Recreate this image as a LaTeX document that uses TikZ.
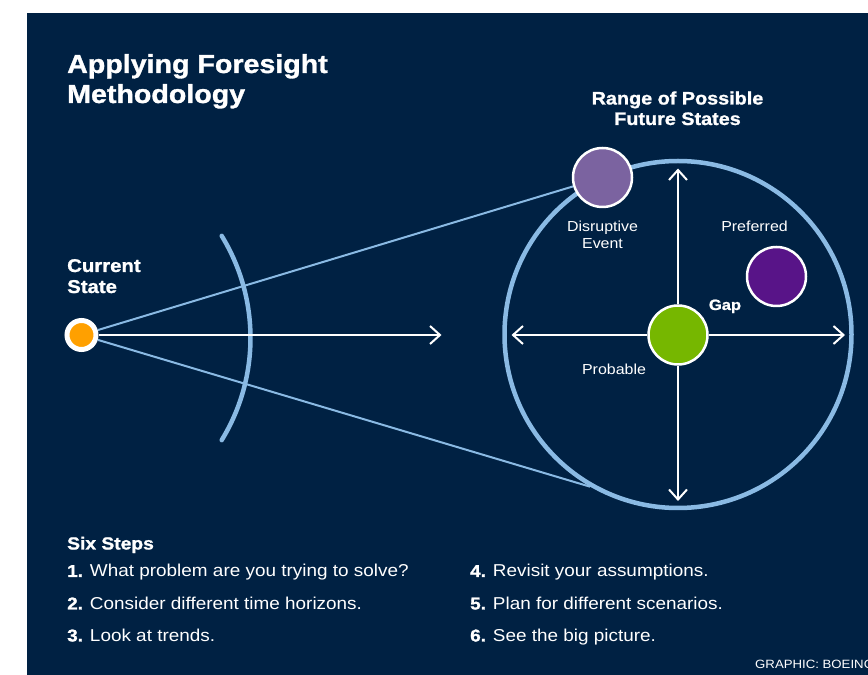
\documentclass[tikz,border=0pt]{standalone}
\usepackage{fontspec}
\setmainfont{Liberation Sans}[FakeStretch=1.1]
\newfontfamily\heavyfont{Liberation Sans Bold}[FakeStretch=1.1,FakeBold=1.2]
\usetikzlibrary{arrows.meta,positioning}

\definecolor{navy}{RGB}{0,33,67}
\definecolor{skyline}{RGB}{138,186,228}
\definecolor{dotorange}{RGB}{255,160,0}
\definecolor{probgreen}{RGB}{118,183,0}
\definecolor{disrpurple}{RGB}{123,99,160}
\definecolor{prefpurple}{RGB}{88,20,136}

\begin{document}
\begin{tikzpicture}[x=1pt,y=1pt,
		blob/.style={circle,draw=white,line width=2.5pt,inner sep=0pt,minimum size=59pt},
		ray/.style={draw=skyline,line width=2pt},
		axis/.style={draw=white,line width=2pt,-{Straight Barb[length=10pt,width=18pt]}},
		tag/.style={text=white,inner sep=0pt,align=center,font=\fontsize{14.5}{17}\selectfont},
		head/.style={text=white,inner sep=0pt,font=\heavyfont\fontsize{18.5}{21}\selectfont},
		steptxt/.style={text=white,inner sep=0pt,anchor=base west,font=\fontsize{17.2}{19}\selectfont}]
	\useasboundingbox (0,0) rectangle (868,675);
	\clip (0,0) rectangle (868,675);
	\fill[white] (0,0) rectangle (868,675);
	\fill[navy] (27,0) rectangle (868,662);
	% headings (base = last line)
	\node[head,align=left,anchor=base west,font=\heavyfont\fontsize{26}{30}\selectfont] (title) at (67,572) {Applying Foresight\\Methodology};
	\node[head,align=center,anchor=base,font=\heavyfont\fontsize{18}{20.5}\selectfont] (rangetitle) at (677.5,550) {Range of Possible\\Future States};
	\node[head,align=left,anchor=base west] (curtitle) at (67,382) {Current\\State};
	% circles
	\node[circle,draw=skyline,line width=4.5pt,inner sep=0pt,minimum size=347pt] (range) at (678,340.5) {};
	\node[circle,draw=white,fill=dotorange,line width=5pt,inner sep=0pt,minimum size=29pt] (cur) at (81.5,340) {};
	\coordinate (lens) at (55,337);
	\coordinate (mid) at (441.5,340);
	\coordinate (up) at (678,506.5);
	\coordinate (down) at (678,174);
	\coordinate (left) at (511.5,340);
	\coordinate (right) at (845,340);
	\draw[ray] (cur) -- (range.240);
	\draw[ray,line width=4.5pt,line cap=round] ([shift={(-31.5:195.5)}]lens) arc[start angle=-31.5,end angle=31.5,radius=195.5];
	\draw[axis] (cur) -- (mid);
	\node[blob,fill=probgreen] (prob) at (678,340) {};
	\node[blob,fill=disrpurple] (disr) at (602.5,497.5) {};
	\node[blob,fill=prefpurple] (pref) at (776.5,398.5) {};
	\draw[ray] (cur) -- (disr);
	\draw[axis] (prob) -- (up);
	\draw[axis] (prob) -- (down);
	\draw[axis] (prob) -- (left);
	\draw[axis] (prob) -- (right);
	% labels
	\node[tag,anchor=base] (disrtag) at (602.5,426) {Disruptive\\Event};
	\node[tag,anchor=base] (preftag) at (754.5,443) {Preferred};
	\node[tag,anchor=base,font=\heavyfont\fontsize{15}{18}\selectfont] (gaptag) at (725,365) {Gap};
	\node[tag,anchor=base] (probtag) at (614,300) {Probable};
	% six steps
	\node[steptxt,font=\heavyfont\fontsize{17.5}{19}\selectfont] (steps) at (67,125.5) {Six Steps};
	\node[steptxt] (s1) at (67,98) {{\heavyfont 1.} What problem are you trying to solve?};
	\node[steptxt] (s2) at (67,65.5) {{\heavyfont 2.} Consider different time horizons.};
	\node[steptxt] (s3) at (67,33.5) {{\heavyfont 3.} Look at trends.};
	\node[steptxt] (s4) at (470,98) {{\heavyfont 4.} Revisit your assumptions.};
	\node[steptxt] (s5) at (470,65.5) {{\heavyfont 5.} Plan for different scenarios.};
	\node[steptxt] (s6) at (470,33.5) {{\heavyfont 6.} See the big picture.};
	\node[steptxt,font=\fontsize{12}{14}\selectfont] (credit) at (755,6) {GRAPHIC: BOEING};
\end{tikzpicture}
\end{document}
